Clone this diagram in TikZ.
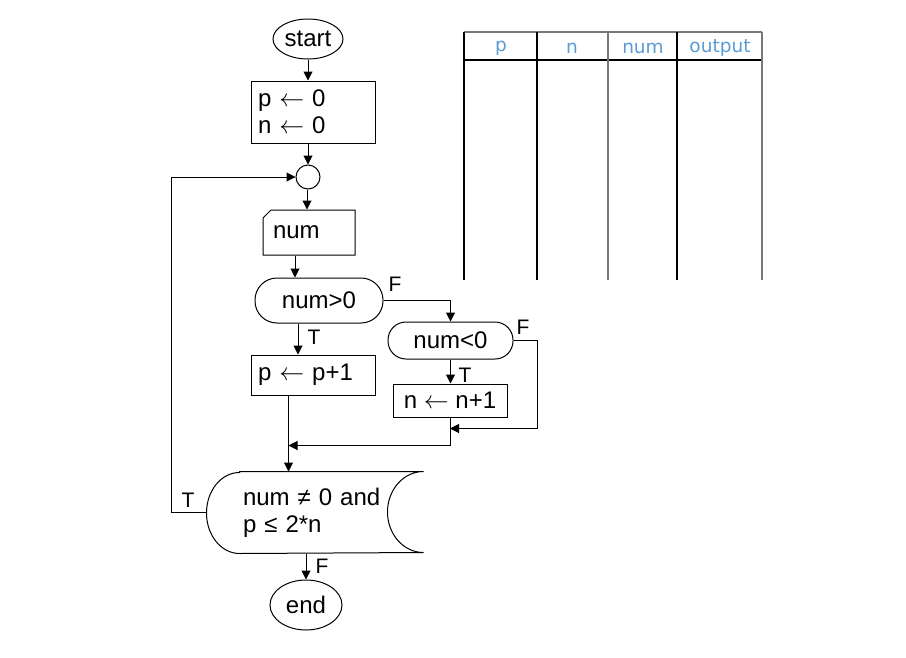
\documentclass[tikz,border=0pt]{standalone}
\usepackage{fontspec}
\setmainfont{Liberation Sans}
\newfontfamily\headfont{DejaVu Sans}
\usetikzlibrary{arrows.meta,shapes.geometric,shapes.misc,calc}
\definecolor{headblue}{RGB}{91,155,213}
\definecolor{rulegray}{RGB}{120,120,120}
\newcommand{\assign}{ $\leftarrow$ }
\begin{document}
\begin{tikzpicture}[x=1pt,y=1pt,
  line width=1pt,
  every node/.style={font=\fontsize{24}{27}\selectfont},
  terminal/.style={draw,ellipse,inner sep=0pt},
  procbox/.style={draw,rectangle,inner ysep=0pt,align=left},
  decision/.style={draw,rectangle,rounded corners=18pt,inner sep=0pt},
  flow/.style={-{Triangle[length=9pt,width=9pt]}},
  tf/.style={font=\fontsize{21}{23}\selectfont,inner sep=0pt},
  headtext/.style={font=\headfont\fontsize{18.5}{21}\selectfont,text=headblue,inner sep=0pt}
]
\useasboundingbox (0,0) rectangle (906,-657);

% ---- flowchart nodes ----
\node[terminal,minimum width=70pt,minimum height=40pt] (start) at (308,-39) {start};
\node[procbox,text width=110pt,inner xsep=7pt,minimum height=62pt] (init) at (313,-112)
  {p\assign 0\\n\assign 0};
\node[draw,circle,minimum size=24pt,inner sep=0pt] (circ) at (308,-177) {};
\node[draw,chamfered rectangle,chamfered rectangle corners=north west,
      chamfered rectangle xsep=4pt,chamfered rectangle ysep=4pt,
      minimum width=84pt,minimum height=45pt,text width=72pt,inner xsep=6pt,inner ysep=0pt,align=left]
      (numin) at (309,-232.5) {num};
\node[decision,minimum width=128pt,minimum height=45pt,rounded corners=22pt] (dec1) at (319,-300.5) {num>0};
\node[decision,minimum width=125pt,minimum height=37pt] (dec2) at (450.5,-340.5) {num<0};
\node[procbox,text width=110pt,inner xsep=7pt,minimum height=40pt] (pbox) at (313,-375)
  {p\assign p+1};
\node[draw,rectangle,minimum width=114pt,minimum height=33pt,inner sep=0pt] (nbox) at (450,-400.5)
  {n\assign n+1};
\node[rectangle,minimum width=216pt,minimum height=81pt,text width=144pt,
      inner xsep=36pt,inner ysep=0pt,align=left] (cond) at (315,-512.5)
  {num ≠ 0 and\\p ≤ 2*n};
\node[terminal,minimum width=72pt,minimum height=50pt] (endn) at (306,-605) {end};

% stored-data outline of the loop test
\draw ([xshift=33pt]cond.north west) -- (cond.north east)
  arc[start angle=90,end angle=270,x radius=36pt,y radius=40.5pt]
  -- ([xshift=33pt]cond.south west)
  arc[start angle=270,end angle=90,x radius=33pt,y radius=40.5pt] -- cycle;

% ---- join points ----
\coordinate (j2) at ([yshift=-11pt]nbox.south);
\coordinate (j1) at ($(pbox.south west)+(38pt,-50pt)$);

% ---- connectors ----
\draw[flow] (start.south) -- (start.south |- init.north);
\draw[flow] (circ |- init.south) -- (circ.north);
\draw[flow] ([xshift=-1pt]circ.south) -- ([xshift=-1pt]circ.south |- numin.north);
\draw[flow] ([xshift=-14pt]numin.south) -- ([xshift=-14pt]numin.south |- dec1.north);
\draw[flow] (dec1.east) -| (dec2.north);
\draw[flow] ([xshift=-21pt]dec1.south) -- ([xshift=-21pt]dec1.south |- pbox.north);
\draw[flow] (dec2.south) -- (dec2.south |- nbox.north);
\draw[flow] (dec2.east) -- ++(24pt,0) |- (j2);
\draw[flow] (nbox.south) -- (nbox.south |- j1) -- (j1);
\draw[flow] (j1 |- pbox.south) -- (j1 |- cond.north);
\draw[flow] (cond.west) -- ++(-35pt,0) |- (circ.west);
\draw[flow] (cond.south -| endn) -- (endn.north);

% ---- branch labels ----
\node[tf] (f1) at (395,-284) {F};
\node[tf] (t1) at (314,-337) {T};
\node[tf] (f2) at (523,-327) {F};
\node[tf] (t2) at (465,-375) {T};
\node[tf] (t3) at (188,-500) {T};
\node[tf] (f3) at (322,-566) {F};

% ---- trace table ----
\draw[rulegray,line width=1.4pt] (464,-32) -- (762,-32);
\draw[line width=1.8pt] (464,-60) -- (762,-60);
\draw[line width=1.2pt] (464,-32) -- (464,-280);
\draw[line width=1.2pt] (537,-32) -- (537,-280);
\draw[rulegray,line width=1.2pt] (608,-32) -- (608,-280);
\draw[line width=1.2pt] (677,-32) -- (677,-280);
\draw[rulegray,line width=1.2pt] (762,-32) -- (762,-280);
\node[headtext] (hp) at (501,-48) {p};
\node[headtext] (hn) at (572,-48) {n};
\node[headtext] (hnum) at (643,-48) {num};
\node[headtext] (hout) at (720,-48) {output};
\end{tikzpicture}
\end{document}
